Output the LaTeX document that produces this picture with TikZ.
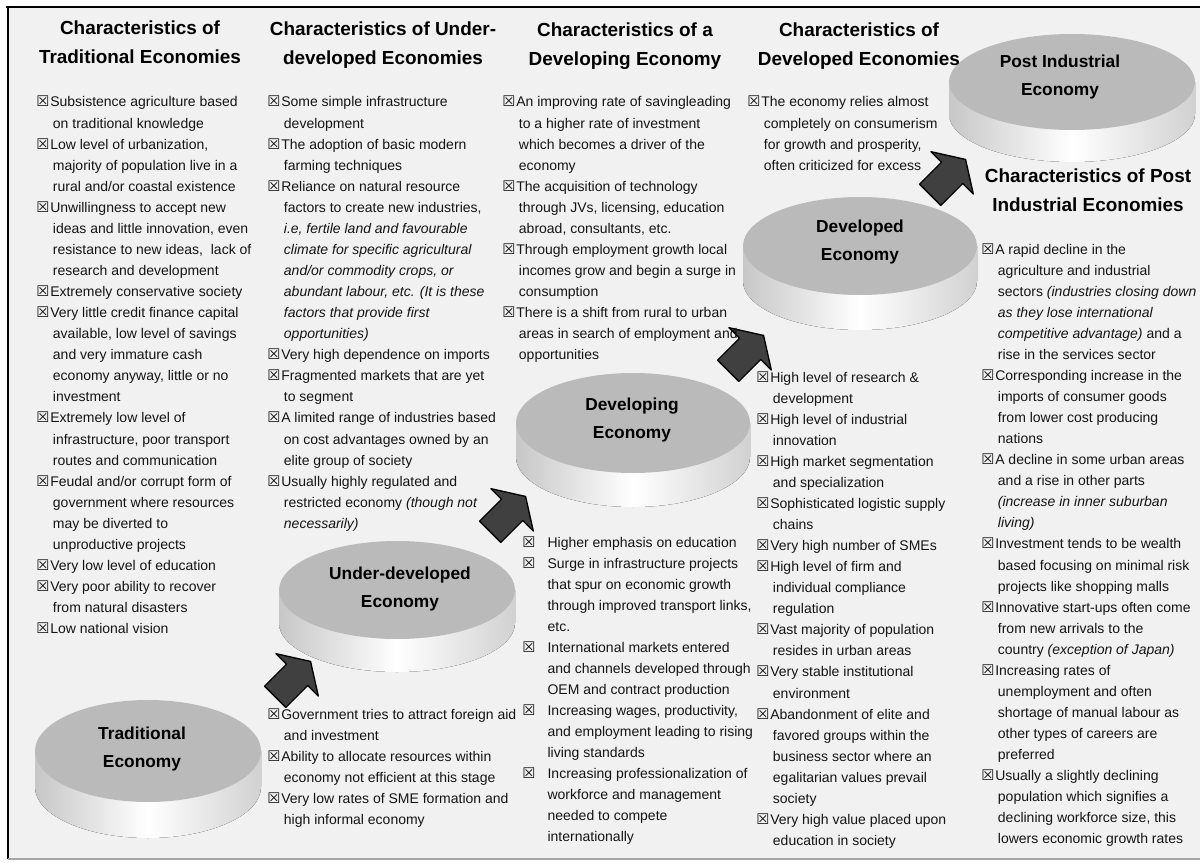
\documentclass[tikz,border=0pt]{standalone}
\usepackage{fontspec}
\setmainfont{Liberation Sans}
\newfontfamily\symfont{DejaVu Sans}
\definecolor{paper}{HTML}{F1F1F1}
\definecolor{disctop}{HTML}{BABABA}
\definecolor{arrowfill}{HTML}{404040}
\definecolor{ink}{HTML}{141414}

% bullet with ballot box, continuation indent, wide bullet
\newcommand\itembox{\makebox[10.5pt][l]{\symfont\fontsize{11}{11}\selectfont ☒}}
\newcommand\itemcont{\hspace*{12.5pt}}
\newcommand\itemwide{\makebox[19pt][l]{\symfont\fontsize{11}{11}\selectfont ☒}}
\newcommand\contwide{\hspace*{19pt}}
\newcommand\colbox[1]{\parbox[t]{260pt}{\fontsize{10.5}{15.8}\selectfont\raggedright #1}}

% disc: centre x, centre y, x radius, y radius, thickness
\newcommand\econdisc[5]{%
  \fill[left color=black!22, right color=black!18, middle color=white]
    ({#1-#3},#2) -- ({#1-#3},{#2+#5})
    arc[start angle=180, end angle=0, x radius=#3, y radius=#4]
    -- ({#1+#3},#2) -- cycle;
  \fill[disctop] (#1,#2) ellipse [x radius=#3, y radius=#4];
}
% block arrow pointing up-right
\newcommand\stagearrow[2]{%
  \draw[stagearrowstyle, shift={(#1,#2)}, rotate=45]
    (-28,-15) -- (3,-15) -- (3,-30) -- (22,0) -- (3,30) -- (3,15) -- (-28,15) -- cycle;
}

\begin{document}
\begin{tikzpicture}[x=0.75pt, y=-0.75pt,
  coltext/.style={anchor=base west, inner sep=0pt, text=ink},
  head/.style={align=center, inner sep=0pt, text=black,
    font=\bfseries\fontsize{14.2}{21.75}\selectfont},
  disclabel/.style={align=center, inner sep=0pt, text=black,
    font=\bfseries\fontsize{13}{21}\selectfont},
  stagearrowstyle/.style={fill=arrowfill, draw=black, line width=1pt, line join=round}]
\useasboundingbox (0,0) rectangle (1200,863);

% frame
\fill[paper] (8,7) rectangle (1200,859);
\draw[line width=2.2pt] (6,7) -- (1200,7);
\draw[line width=1.4pt] (8,6) -- (8,859);
\draw[black!35, line width=0.8pt] (8,859) -- (1200,859);

% stage discs
\econdisc{148}{751}{113}{51}{36}
\econdisc{397}{590}{118}{49}{33}
\econdisc{633}{423}{117}{50}{34}
\econdisc{860}{246}{117}{49}{35}
\econdisc{1072}{82}{123}{48}{32}

\node[disclabel] (d1) at (142,749) {Traditional\\Economy};
\node[disclabel] (d2) at (400,589) {Under-developed\\Economy};
\node[disclabel] (d3) at (632,420) {Developing\\Economy};
\node[disclabel] (d4) at (860,242) {Developed\\Economy};
\node[disclabel] (d5) at (1060,77) {Post Industrial\\Economy};

% arrows between stages
\stagearrow{295}{677}
\stagearrow{510}{512}
\stagearrow{748}{351}
\stagearrow{950}{175}

% headings
\node[head] (h1) at (140,42) {Characteristics of\\Traditional Economies};
\node[head] (h2) at (383,45) {Characteristics of Under-\\developed Economies};
\node[head] (h3) at (625,46) {Characteristics of a\\Developing Economy};
\node[head] (h4) at (859,46) {Characteristics of\\Developed Economies};
\node[head] (h5) at (1088,190) {Characteristics of Post\\Industrial Economies};

% traditional
\node[coltext] (c1) at (36,107) {\colbox{%
\itembox Subsistence agriculture based\\
\itemcont on traditional knowledge\\
\itembox Low level of urbanization,\\
\itemcont majority of population live in a\\
\itemcont rural and/or coastal existence\\
\itembox Unwillingness to accept new\\
\itemcont ideas and little innovation, even\\
\itemcont resistance to new ideas,\ \ lack of\\
\itemcont research and development\\
\itembox Extremely conservative society\\
\itembox Very little credit finance capital\\
\itemcont available, low level of savings\\
\itemcont and very immature cash\\
\itemcont economy anyway, little or no\\
\itemcont investment\\
\itembox Extremely low level of\\
\itemcont infrastructure, poor transport\\
\itemcont routes and communication\\
\itembox Feudal and/or corrupt form of\\
\itemcont government where resources\\
\itemcont may be diverted to\\
\itemcont unproductive projects\\
\itembox Very low level of education\\
\itembox Very poor ability to recover\\
\itemcont from natural disasters\\
\itembox Low national vision}};

% under-developed
\node[coltext] (c2) at (267,107) {\colbox{%
\itembox Some simple infrastructure\\
\itemcont development\\
\itembox The adoption of basic modern\\
\itemcont farming techniques\\
\itembox Reliance on natural resource\\
\itemcont factors to create new industries,\\
\itemcont \textit{i.e, fertile land and favourable}\\
\itemcont \textit{climate for specific agricultural}\\
\itemcont \textit{and/or commodity crops, or}\\
\itemcont \textit{abundant labour, etc. (It is these}\\
\itemcont \textit{factors that provide first}\\
\itemcont \textit{opportunities)}\\
\itembox Very high dependence on imports\\
\itembox Fragmented markets that are yet\\
\itemcont to segment\\
\itembox A limited range of industries based\\
\itemcont on cost advantages owned by an\\
\itemcont elite group of society\\
\itembox Usually highly regulated and\\
\itemcont restricted economy \textit{(though not}\\
\itemcont \textit{necessarily)}}};

\node[coltext] (c2b) at (267,719) {\colbox{%
\itembox Government tries to attract foreign aid\\
\itemcont and investment\\
\itembox Ability to allocate resources within\\
\itemcont economy not efficient at this stage\\
\itembox Very low rates of SME formation and\\
\itemcont high informal economy}};

% developing
\node[coltext] (c3) at (502,107) {\colbox{%
\itembox An improving rate of savingleading\\
\itemcont to a higher rate of investment\\
\itemcont which becomes a driver of the\\
\itemcont economy\\
\itembox The acquisition of technology\\
\itemcont through JVs, licensing, education\\
\itemcont abroad, consultants, etc.\\
\itembox Through employment growth local\\
\itemcont incomes grow and begin a surge in\\
\itemcont consumption\\
\itembox There is a shift from rural to urban\\
\itemcont areas in search of employment and\\
\itemcont opportunities}};

\node[coltext] (c3b) at (522,547) {\colbox{%
\itemwide Higher emphasis on education\\
\itemwide Surge in infrastructure projects\\
\contwide that spur on economic growth\\
\contwide through improved transport links,\\
\contwide etc.\\
\itemwide International markets entered\\
\contwide and channels developed through\\
\contwide OEM and contract production\\
\itemwide Increasing wages, productivity,\\
\contwide and employment leading to rising\\
\contwide living standards\\
\itemwide Increasing professionalization of\\
\contwide workforce and management\\
\contwide needed to compete\\
\contwide internationally}};

% developed
\node[coltext] (c4) at (747,107) {\colbox{%
\itembox The economy relies almost\\
\itemcont completely on consumerism\\
\itemcont for growth and prosperity,\\
\itemcont often criticized for excess}};

\node[coltext] (c4b) at (756,382) {\colbox{%
\itembox High level of research \&\\
\itemcont development\\
\itembox High level of industrial\\
\itemcont innovation\\
\itembox High market segmentation\\
\itemcont and specialization\\
\itembox Sophisticated logistic supply\\
\itemcont chains\\
\itembox Very high number of SMEs\\
\itembox High level of firm and\\
\itemcont individual compliance\\
\itemcont regulation\\
\itembox Vast majority of population\\
\itemcont resides in urban areas\\
\itembox Very stable institutional\\
\itemcont environment\\
\itembox Abandonment of elite and\\
\itemcont favored groups within the\\
\itemcont business sector where an\\
\itemcont egalitarian values prevail\\
\itemcont society\\
\itembox Very high value placed upon\\
\itemcont education in society}};

% post industrial
\node[coltext] (c5) at (981,254) {\colbox{%
\itembox A rapid decline in the\\
\itemcont agriculture and industrial\\
\itemcont sectors \textit{(industries closing down}\\
\itemcont \textit{as they lose international}\\
\itemcont \textit{competitive advantage)} and a\\
\itemcont rise in the services sector\\
\itembox Corresponding increase in the\\
\itemcont imports of consumer goods\\
\itemcont from lower cost producing\\
\itemcont nations\\
\itembox A decline in some urban areas\\
\itemcont and a rise in other parts\\
\itemcont \textit{(increase in inner suburban}\\
\itemcont \textit{living)}\\
\itembox Investment tends to be wealth\\
\itemcont based focusing on minimal risk\\
\itemcont projects like shopping malls\\
\itembox Innovative start-ups often come\\
\itemcont from new arrivals to the\\
\itemcont country \textit{(exception of Japan)}\\
\itembox Increasing rates of\\
\itemcont unemployment and often\\
\itemcont shortage of manual labour as\\
\itemcont other types of careers are\\
\itemcont preferred\\
\itembox Usually a slightly declining\\
\itemcont population which signifies a\\
\itemcont declining workforce size, this\\
\itemcont lowers economic growth rates}};
\end{tikzpicture}
\end{document}
